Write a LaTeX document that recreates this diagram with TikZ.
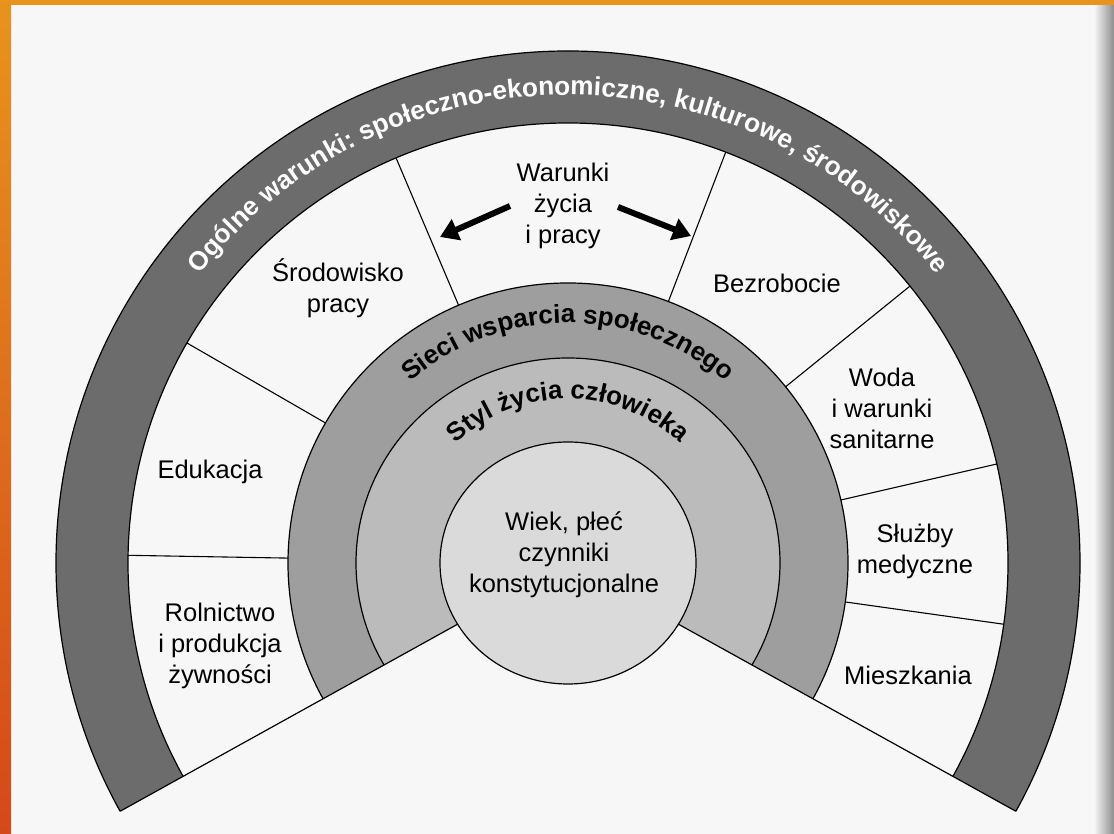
\documentclass[tikz,border=0pt]{standalone}
\usepackage{fontspec}
\setmainfont{Liberation Sans}
\usetikzlibrary{decorations.text,arrows.meta,calc}
\definecolor{paper}{HTML}{F7F7F7}
\definecolor{bandA}{HTML}{6C6C6C}
\definecolor{bandB}{HTML}{9E9E9E}
\definecolor{bandC}{HTML}{BBBBBB}
\definecolor{bandD}{HTML}{DADADA}
\definecolor{orA}{HTML}{E8931E}
\definecolor{orB}{HTML}{D4491A}
\begin{document}
\begin{tikzpicture}[x=1pt,y=1pt,
  lbl/.style={align=center,font=\fontsize{25.5}{31}\selectfont,inner sep=0pt},
  ringline/.style={draw=black,line width=1.2pt},
  divider/.style={draw=black,line width=1.1pt},
  bigarrow/.style={line width=6pt,-{Triangle[length=18pt,width=22pt]}},
  arctext/.style={decorate,decoration={text along path,text align=center,text={#1}}}]
\useasboundingbox (0,0) rectangle (1114,834);
\fill[paper] (0,0) rectangle (1114,834);
\shade[left color=paper,right color=black!45] (1094,0) rectangle (1114,834);
\shade[top color=orA,bottom color=orB] (0,0) rectangle (11,834);
\fill[orA] (0,829) rectangle (1114,834);

\coordinate (C) at (568,271);
\begin{scope}
  \clip (C) -- ($(C)+(-29:800)$) -- (1400,1000) -- (-300,1000) -- ($(C)+(209:800)$) -- cycle;
  \path[fill=bandA,ringline] (C) circle [radius=512];
  \path[fill=paper,ringline] (C) circle [radius=440];
  \foreach \a in {179,150,113,69,39,13,-8}
    \draw[divider] (C) -- ++(\a:440);
  \path[fill=bandB,ringline] (C) circle [radius=280];
  \path[fill=bandC,ringline] (C) ellipse [x radius=212,y radius=205];
\end{scope}
\draw[ringline] (C) -- ++(209:512);
\draw[ringline] (C) -- ++(-29:512);
\path[fill=bandD,ringline] (C) ellipse [x radius=128,y radius=121];

\path[arctext={|\color{white}\bfseries\fontsize{26.2}{30}\selectfont|Ogólne warunki: społeczno-ekonomiczne, kulturowe, środowiskowe}]
  ($(C)+(180:468)$) arc [start angle=180,end angle=0,radius=468];
\path[arctext={|\bfseries\fontsize{26}{30}\selectfont|Sieci wsparcia społecznego}]
  ($(C)+(180:240)$) arc [start angle=180,end angle=0,radius=240];
\path[arctext={|\bfseries\fontsize{26}{30}\selectfont|Styl życia człowieka}]
  ($(C)+(180:164)$) arc [start angle=180,end angle=0,radius=164];

\node[lbl] (wiek) at (564,279) {Wiek, płeć\\czynniki\\konstytucjonalne};
\node[lbl] (warunki) at (563,628) {Warunki\\życia\\i pracy};
\node[lbl] (srodowisko) at (338,546) {Środowisko\\pracy};
\node[lbl] (bezrobocie) at (777,551) {Bezrobocie};
\node[lbl] (woda) at (882,426) {Woda\\i warunki\\sanitarne};
\node[lbl] (sluzby) at (915,283) {Służby\\medyczne};
\node[lbl] (mieszkania) at (908,159) {Mieszkania};
\node[lbl] (edukacja) at (210,362) {Edukacja};
\node[lbl] (rolnictwo) at (220,188) {Rolnictwo\\i produkcja\\żywności};

\coordinate (la1) at (510,628);
\coordinate (la2) at (440,597);
\coordinate (ra1) at (618,627);
\coordinate (ra2) at (691,598);
\draw[bigarrow] (la1) -- (la2);
\draw[bigarrow] (ra1) -- (ra2);
\end{tikzpicture}
\end{document}
